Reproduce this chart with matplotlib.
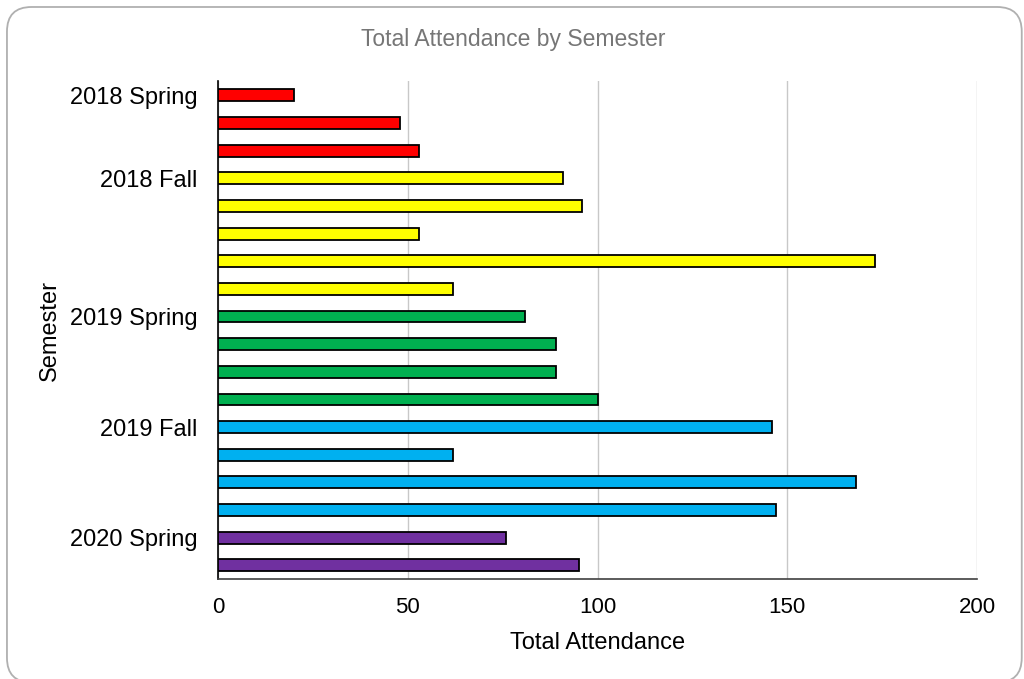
import matplotlib
matplotlib.use("Agg")
import matplotlib.pyplot as plt
from matplotlib.patches import FancyBboxPatch
import numpy as np

plt.rcParams['font.family'] = ['Liberation Sans', 'DejaVu Sans']

# one bar per session, top to bottom
attendance = [20, 48, 53, 91, 96, 53, 173, 62, 81, 89, 89, 100, 146, 62, 168, 147, 76, 95]
semester = ['2018 Spring'] * 3 + ['2018 Fall'] * 5 + ['2019 Spring'] * 4 + \
           ['2019 Fall'] * 4 + ['2020 Spring'] * 2
semester_colors = {
    '2018 Spring': '#FF0000',
    '2018 Fall': '#FFFF00',
    '2019 Spring': '#00B050',
    '2019 Fall': '#00B0F0',
    '2020 Spring': '#7030A0',
}
# labelled rows on the y axis
label_rows = [0, 3, 8, 12, 16]
label_text = ['2018 Spring', '2018 Fall', '2019 Spring', '2019 Fall', '2020 Spring']

fig = plt.figure(figsize=(10.24, 6.79), dpi=100)

# rounded frame round the whole chart (bottom edge just off the picture)
frame = FancyBboxPatch((0.0068, -0.005), 0.991, 0.9947,
                       boxstyle="round,pad=0,rounding_size=0.024",
                       transform=fig.transFigure, facecolor='none',
                       edgecolor='#B0B0B0', linewidth=1.3, mutation_aspect=1024 / 679,
                       zorder=-1)
fig.patches.append(frame)

ax = fig.add_axes([0.2129, 0.147, 0.7412, 0.733])
ax.set_facecolor('none')

y = np.arange(len(attendance))
colors = [semester_colors[s] for s in semester]
ax.barh(y, attendance, height=0.43, color=colors, edgecolor='black', linewidth=1.3, zorder=3)

ax.set_xlim(0, 200)
ax.set_ylim(len(attendance) - 0.5, -0.5)
ax.set_xticks([0, 50, 100, 150, 200])
ax.set_yticks(label_rows)
ax.set_yticklabels(label_text)
ax.tick_params(axis='both', length=0, colors='black')
ax.tick_params(axis='x', pad=13, labelsize=16)
ax.tick_params(axis='y', pad=15, labelsize=17)
ax.grid(axis='x', color='#C8C8C8', linewidth=1, zorder=0)

for side in ['top', 'right']:
    ax.spines[side].set_visible(False)
ax.spines['left'].set_color('black')
ax.spines['left'].set_linewidth(1.2)
ax.spines['bottom'].set_color('#404040')
ax.spines['bottom'].set_linewidth(1.2)

ax.set_xlabel('Total Attendance', fontsize=17, labelpad=10)
ax.set_ylabel('Semester', fontsize=17, labelpad=6)
fig.text(0.501, 0.942, 'Total Attendance by Semester', ha='center', va='center',
         fontsize=16.5, color='#767676')

fig.savefig('out.png', dpi=100)
